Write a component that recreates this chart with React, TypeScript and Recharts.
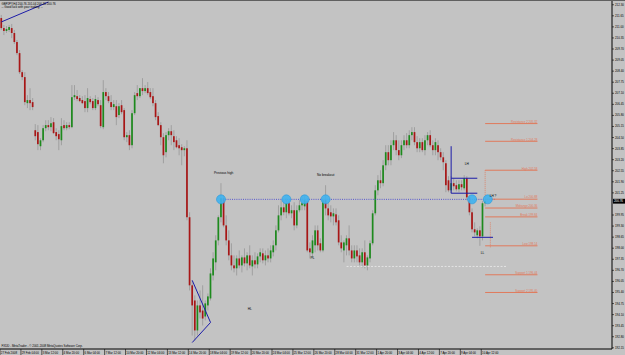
import React from 'react';
import { ComposedChart, Bar, XAxis, YAxis, ReferenceLine, ReferenceDot } from 'recharts';

const titleLine = 'GBPJPY,H4  200.76 201.04 200.33 200.76';
const commentLine = '-- Good luck with your trading! --';
const copyrightLine = 'FXDD - MetaTrader - \u00a9 2001-2008 MetaQuotes Software Corp.';

// [open, high, low, close]
const candles: number[][] = [
  [211.52, 211.70, 210.82, 210.93], [210.93, 211.11, 210.52, 210.76], [210.76, 211.05, 210.64, 210.87],
  [210.82, 211.11, 210.70, 210.99], [210.93, 211.17, 210.34, 210.64], [210.64, 210.82, 209.99, 210.11],
  [210.11, 210.23, 209.34, 209.46], [209.46, 209.64, 208.23, 208.34], [208.34, 208.46, 207.87, 208.05],
  [208.05, 208.34, 206.40, 206.58], [206.52, 206.99, 206.23, 206.70], [206.70, 207.40, 206.11, 206.52],
  [206.58, 206.82, 206.11, 206.29],
  [204.93, 205.29, 204.34, 204.58], [204.82, 205.23, 203.76, 204.11], [203.99, 204.46, 203.76, 204.34],
  [204.34, 205.23, 204.23, 205.05], [205.05, 205.52, 204.87, 205.23], [205.23, 205.52, 204.93, 205.11],
  [205.11, 205.70, 204.87, 205.34], [205.40, 205.64, 204.70, 204.76], [204.82, 205.05, 204.34, 204.58],
  [204.70, 204.93, 203.76, 204.40], [204.34, 205.64, 204.05, 205.17], [205.23, 205.52, 204.93, 205.05],
  [205.05, 205.40, 204.93, 205.23], [205.23, 205.40, 204.99, 205.11], [205.11, 207.58, 205.05, 206.87],
  [206.87, 207.58, 206.70, 206.99],
  [206.93, 207.29, 206.64, 206.76], [206.82, 206.99, 206.58, 206.64], [206.70, 206.93, 206.46, 206.52],
  [206.64, 206.99, 205.99, 206.23], [206.23, 207.40, 205.99, 206.82], [206.76, 206.93, 206.46, 206.58],
  [206.64, 206.82, 206.11, 206.23], [206.23, 206.99, 206.11, 206.76], [206.70, 206.87, 206.34, 206.46],
  [206.40, 206.70, 205.05, 205.17], [205.11, 207.87, 204.99, 207.17], [207.17, 207.40, 206.70, 206.93],
  [206.93, 207.17, 206.52, 206.64], [206.58, 206.99, 206.11, 206.29], [206.29, 206.70, 206.11, 206.46],
  [206.34, 206.70, 205.23, 205.70], [205.82, 206.52, 205.64, 206.34], [206.40, 206.70, 205.87, 205.99],
  [206.11, 206.23, 204.34, 204.52], [204.52, 204.82, 204.23, 204.64], [204.64, 204.93, 203.76, 204.05],
  [204.05, 206.11, 203.87, 205.93], [205.93, 207.17, 205.82, 206.99], [207.11, 207.58, 206.70, 206.93],
  [206.93, 207.40, 206.82, 207.40], [207.40, 207.99, 206.99, 207.23], [207.23, 207.58, 207.11, 207.40],
  [207.40, 207.76, 206.99, 207.11], [207.17, 207.40, 206.76, 206.87], [206.93, 207.40, 206.34, 206.52],
  [206.52, 206.70, 205.52, 205.70], [205.76, 205.99, 205.17, 205.23], [205.23, 205.40, 204.05, 204.52],
  [204.52, 204.76, 202.99, 203.46], [203.64, 204.82, 203.34, 204.64], [204.64, 205.05, 204.34, 204.87],
  [204.87, 205.23, 204.05, 204.64], [204.58, 204.93, 203.76, 204.23], [204.34, 204.58, 203.87, 203.93],
  [204.05, 204.46, 203.46, 203.87], [203.93, 204.11, 202.87, 203.76], [203.76, 203.99, 203.40, 203.87],
  [203.87, 204.34, 199.64, 199.82], [199.82, 200.11, 195.52, 195.82], [195.82, 196.11, 192.87, 194.64],
  [194.93, 195.23, 192.58, 193.17], [193.17, 194.93, 192.87, 194.64], [194.64, 195.52, 193.87, 194.23],
  [194.34, 195.82, 193.46, 193.87], [193.99, 194.93, 193.76, 194.76], [194.64, 195.34, 194.34, 195.17],
  [195.05, 196.82, 194.93, 196.52], [196.40, 197.76, 196.11, 197.40], [197.17, 198.76, 196.70, 198.46],
  [198.46, 199.93, 198.17, 199.82], [199.82, 201.82, 199.52, 200.93],
  [200.93, 201.11, 199.23, 199.34], [199.34, 199.93, 198.17, 198.46], [198.46, 199.05, 197.29, 197.58],
  [197.58, 198.29, 196.70, 196.99], [196.99, 197.58, 196.58, 196.82], [196.82, 197.58, 196.40, 197.40],
  [197.40, 197.87, 196.82, 196.99], [196.99, 197.58, 196.58, 197.46], [197.46, 197.99, 196.93, 197.11],
  [197.11, 197.76, 196.70, 197.58], [197.58, 198.17, 196.82, 196.99], [196.93, 197.58, 196.40, 197.29],
  [197.29, 197.76, 196.82, 197.05], [197.05, 197.70, 196.82, 197.52], [197.52, 197.99, 197.17, 197.76],
  [197.70, 197.99, 197.11, 197.29], [197.29, 197.87, 196.99, 197.58], [197.58, 197.99, 197.17, 197.40],
  [197.40, 198.17, 197.17, 197.87], [197.76, 198.46, 197.52, 198.17], [198.17, 199.34, 197.87, 199.05],
  [199.05, 200.52, 198.93, 199.93], [199.93, 200.82, 199.64, 200.40], [200.40, 200.82, 199.93, 200.11],
  [200.11, 200.93, 199.76, 200.64], [200.64, 200.93, 199.93, 200.05], [200.05, 200.52, 199.76, 200.23],
  [200.23, 200.70, 199.05, 199.34], [199.34, 200.52, 199.17, 200.23], [200.23, 200.82, 200.11, 200.52],
  [200.52, 201.11, 200.23, 200.64], [200.46, 201.11, 200.23, 200.82], [200.76, 200.93, 197.76, 197.87],
  [197.99, 198.34, 197.40, 197.76], [197.70, 198.76, 197.40, 198.46], [198.17, 199.34, 197.76, 199.05],
  [199.05, 199.34, 197.87, 198.17], [198.29, 198.58, 197.76, 197.87], [197.87, 200.93, 197.76, 200.82],
  [200.82, 201.70, 199.93, 200.34], [200.34, 200.70, 199.64, 199.93], [200.11, 200.52, 199.52, 199.87],
  [199.87, 200.34, 199.34, 200.05], [199.99, 200.34, 199.34, 199.52], [199.64, 199.93, 198.17, 198.34],
  [198.34, 198.76, 197.76, 197.99], [197.87, 198.46, 197.17, 198.34], [198.17, 198.76, 197.58, 198.58],
  [198.58, 199.34, 197.58, 197.87], [197.87, 198.17, 197.17, 197.40], [197.40, 198.17, 197.17, 197.87],
  [197.87, 198.17, 197.17, 197.52], [197.58, 197.99, 196.99, 197.17], [197.17, 197.99, 196.87, 197.76],
  [197.76, 198.46, 196.82, 196.99], [196.99, 197.58, 196.70, 197.46], [197.40, 198.46, 197.17, 198.29],
  [198.29, 200.23, 198.17, 200.05], [200.05, 201.70, 199.93, 201.40], [201.40, 202.29, 201.11, 201.99],
  [201.99, 202.58, 201.52, 201.82], [201.82, 203.17, 201.64, 202.87], [202.87, 204.05, 202.58, 203.64],
  [203.64, 204.05, 202.87, 203.17], [203.17, 204.34, 202.87, 204.05], [204.05, 204.82, 203.76, 204.34],
  [204.34, 204.64, 203.46, 203.76], [203.76, 204.34, 203.17, 203.46], [203.46, 204.34, 203.29, 204.05],
  [204.05, 204.64, 203.76, 204.34], [204.34, 204.76, 203.87, 204.05], [204.05, 204.93, 203.87, 204.64],
  [204.64, 205.11, 204.34, 204.82], [204.82, 205.11, 204.05, 204.23], [204.23, 204.58, 203.64, 203.87],
  [203.87, 204.46, 203.64, 204.23], [204.23, 204.46, 203.64, 203.76], [203.76, 204.64, 203.46, 204.34],
  [204.34, 204.82, 204.05, 204.64], [204.64, 204.93, 203.93, 204.05], [204.05, 204.34, 203.46, 203.76],
  [203.76, 204.46, 203.46, 204.23], [204.05, 204.34, 203.17, 203.64], [203.64, 203.87, 203.17, 203.34],
  [203.34, 203.64, 202.58, 203.05], [202.99, 203.17, 201.29, 201.70], [201.99, 202.23, 201.29, 201.40],
  [201.40, 202.23, 201.23, 201.82], [201.82, 202.11, 201.40, 201.64], [201.70, 201.99, 201.34, 201.46],
  [201.46, 201.99, 201.29, 201.76], [201.76, 201.99, 201.40, 201.58], [201.52, 202.29, 201.40, 202.11],
  [202.11, 202.23, 200.82, 200.99], [200.99, 201.11, 199.93, 200.11], [200.11, 200.34, 198.93, 199.11],
  [199.11, 199.52, 198.70, 198.93], [198.76, 199.17, 198.58, 199.05], [199.05, 199.29, 198.14, 198.70],
  [198.70, 200.76, 198.46, 200.64], [200.64, 200.99, 200.46, 200.76],
];

const priceTicks = [
  212.30, 211.65, 211.00, 210.35, 209.70, 209.05, 208.40, 207.75, 207.10, 206.45, 205.80,
  205.15, 204.50, 203.85, 203.20, 202.55, 201.90, 201.25, 199.95, 199.30, 198.65,
  198.00, 197.35, 196.70, 196.05, 195.40, 194.75, 194.10, 193.45, 192.80, 192.15,
];
const currentPrice = 200.76;

const timeLabels = [
  '27 Feb 2008', '29 Feb 04:00', '3 Mar 12:00', '4 Mar 20:00', '6 Mar 04:00', '7 Mar 12:00',
  '10 Mar 20:00', '12 Mar 04:00', '13 Mar 12:00', '14 Mar 20:00', '18 Mar 04:00', '19 Mar 12:00',
  '20 Mar 20:00', '24 Mar 04:00', '25 Mar 12:00', '26 Mar 20:00', '28 Mar 04:00', '31 Mar 12:00',
  '1 Apr 20:00', '3 Apr 04:00', '4 Apr 12:00', '7 Apr 20:00', '9 Apr 04:00', '10 Apr 12:00',
];
const barsPerLabel = 8;
const totalSlots = 234;

const levelNames = ['Resistance 2', 'Resistance 1', 'High', 'Lo', 'Midrange', 'Break', 'Low', 'Support 1', 'Support 2'];
const levelValues = [205.32, 204.28, 202.58, 200.88, 200.36, 199.84, 198.14, 196.44, 195.40];
const levelFrom = 185;
const levelTo = 205;

const previousHigh = 200.87;
const touchBars = [84, 109, 116, 124, 180, 186];

const notes = [
  { text: 'Previous high', i: 85, p: 202.42 },
  { text: 'No breakout', i: 124, p: 202.32 },
  { text: 'PL', i: 119, p: 197.4 },
  { text: 'HL', i: 95, p: 194.44 },
  { text: 'LH', i: 178, p: 202.95 },
  { text: 'LL', i: 184, p: 197.74 },
  { text: 'LH ?', i: 188, p: 201.05 },
];

// trend / structure lines: [x1, y1, x2, y2]
const blueLines = [
  [0, 211.29, 18, 212.46],
  [73, 196.11, 80, 193.64],
  [73, 192.46, 80, 193.64],
  [172, 203.99, 172, 201.23],
  [172, 202.11, 182, 202.11],
  [172, 201.23, 182, 201.23],
  [180, 198.64, 188, 198.64],
];
const pinkDotted = [
  [185, 202.58, 185, 200.99],
  [187, 199.52, 187, 198.05],
];
const weekLowLine = [132, 196.93, 193, 196.93];

const table = Array.from({ length: totalSlots }, (_, i) => {
  const c = candles[i];
  return c ? { i, o: c[0], h: c[1], l: c[2], c: c[3], range: [c[2], c[1]] } : { i };
});

const BG = '#c3c3c3';
const UP = '#1d8a1d';
const DOWN = '#a81616';
const WICK = '#909090';
const LEVEL = '#e07a5c';
const BLUE = '#1c1ca8';
const FONT = '"Liberation Sans", Arial, sans-serif';

const Candle = (props: any) => {
  const { x, y, width, height, payload } = props;
  if (!payload || payload.o == null) return null;
  const { o, h, l, c } = payload;
  const top = Math.min(y, y + height);
  const span = Math.abs(height);
  const k = span / (h - l);
  const cx = x + width / 2;
  const yo = top + (h - o) * k;
  const yc = top + (h - c) * k;
  const bTop = Math.min(yo, yc);
  const bH = Math.max(Math.abs(yo - yc), 0.8);
  return (
    <g>
      <line x1={cx} x2={cx} y1={top} y2={top + span} stroke={WICK} strokeWidth={0.7} />
      <rect x={cx - 0.85} y={bTop} width={1.7} height={bH} fill={c >= o ? UP : DOWN} />
    </g>
  );
};

const TimeTick = (props: any) => {
  const { x, y, payload } = props;
  const i = Number(payload.value);
  if (i % barsPerLabel !== 0) return null;
  const lbl = timeLabels[i / barsPerLabel];
  if (!lbl) return null;
  return (
    <g>
      <line x1={x - 1.3} x2={x - 1.3} y1={y} y2={y + 6} stroke="#000" strokeWidth={0.6} />
      <text x={x - 0.5} y={y + 4.6} fontSize={2.9} fill="#000" fontFamily={FONT}>{lbl}</text>
    </g>
  );
};

const PriceTick = (props: any) => {
  const { x, y, payload } = props;
  return (
    <text x={x} y={y + 1} fontSize={2.9} fill="#000" fontFamily={FONT}>
      {Number(payload.value).toFixed(2)}
    </text>
  );
};

const LevelLabel = (props: any) => {
  const { viewBox, text } = props;
  if (!viewBox) return null;
  return (
    <text x={viewBox.x + viewBox.width} y={viewBox.y - 0.7} textAnchor="end" fontSize={2.9} fill={LEVEL} fontFamily={FONT}>
      {text}
    </text>
  );
};

const PriceTag = (props: any) => {
  const { viewBox } = props;
  if (!viewBox) return null;
  const x0 = viewBox.x + viewBox.width + 1;
  return (
    <g>
      <rect x={x0} y={viewBox.y - 2.4} width={12} height={4.8} fill="#000" />
      <text x={x0 + 1} y={viewBox.y + 1} fontSize={2.9} fill="#fff" fontFamily={FONT}>{currentPrice.toFixed(2)}</text>
    </g>
  );
};

export default function App() {
  return (
    <div style={{ position: 'absolute', left: 0, top: 0, width: 625, height: 355, background: BG, overflow: 'hidden' }}>
      <ComposedChart width={625} height={355} data={table} margin={{ top: 1, right: 0, bottom: 0, left: 0 }}>
        <XAxis
          dataKey="i"
          type="category"
          interval={0}
          height={6}
          tickLine={false}
          tickSize={0}
          tickMargin={0}
          axisLine={{ stroke: '#000', strokeWidth: 1 }}
          tick={<TimeTick />}
        />
        <YAxis
          orientation="right"
          type="number"
          width={13}
          domain={[192.08, 212.52]}
          allowDataOverflow
          ticks={priceTicks}
          interval={0}
          tickSize={2}
          tickMargin={1}
          tickLine={{ stroke: '#000', strokeWidth: 0.6 }}
          axisLine={{ stroke: '#000', strokeWidth: 1 }}
          tick={<PriceTick />}
        />
        <ReferenceLine
          segment={[{ x: 84, y: previousHigh }, { x: 189, y: previousHigh }]}
          stroke="#3a3ad0"
          strokeDasharray="1 1.2"
          strokeWidth={0.8}
        />
        <ReferenceLine
          segment={[{ x: weekLowLine[0], y: weekLowLine[1] }, { x: weekLowLine[2], y: weekLowLine[3] }]}
          stroke="#ececec"
          strokeDasharray="2 1.5"
          strokeWidth={0.8}
        />
        {levelValues.map((v, k) => (
          <ReferenceLine
            key={'lv' + k}
            segment={[{ x: levelFrom, y: v }, { x: levelTo, y: v }]}
            stroke={LEVEL}
            strokeWidth={1}
            label={<LevelLabel text={`${levelNames[k]} ${v.toFixed(2)}`} />}
          />
        ))}
        {pinkDotted.map((s, k) => (
          <ReferenceLine
            key={'pd' + k}
            segment={[{ x: s[0], y: s[1] }, { x: s[2], y: s[3] }]}
            stroke={LEVEL}
            strokeDasharray="1 1"
            strokeWidth={0.8}
          />
        ))}
        {blueLines.map((s, k) => (
          <ReferenceLine
            key={'bl' + k}
            segment={[{ x: s[0], y: s[1] }, { x: s[2], y: s[3] }]}
            stroke={BLUE}
            strokeWidth={1}
          />
        ))}
        <Bar dataKey="range" isAnimationActive={false} shape={(p: any) => <Candle {...p} />} />
        {touchBars.map((i) => (
          <ReferenceDot key={'td' + i} x={i} y={previousHigh} r={4.5} fill="#3fb2f0" fillOpacity={0.9} stroke="#2a98dc" strokeWidth={0.6} />
        ))}
        {notes.map((n) => (
          <ReferenceDot
            key={'nt' + n.text}
            x={n.i}
            y={n.p}
            r={1}
            shape={(p: any) => (
              <text x={p.cx} y={p.cy + 1} textAnchor="middle" fontSize={3.2} fill="#000" fontFamily={FONT}>{n.text}</text>
            )}
          />
        ))}
        <ReferenceLine y={currentPrice} stroke="none" label={<PriceTag />} />
      </ComposedChart>
      <svg width={625} height={355} style={{ position: 'absolute', left: 0, top: 0, pointerEvents: 'none' }}>
        <line x1={0} x2={625} y1={0.5} y2={0.5} stroke="#606060" strokeWidth={1} />
        <text x={1.5} y={4.5} fontSize={2.9} fill="#000" fontFamily={FONT}>{titleLine}</text>
        <text x={1.5} y={8} fontSize={2.9} fill="#000" fontFamily={FONT}>{commentLine}</text>
        <text x={1.5} y={347.3} fontSize={2.9} fill="#000" fontFamily={FONT}>{copyrightLine}</text>
      </svg>
    </div>
  );
}
